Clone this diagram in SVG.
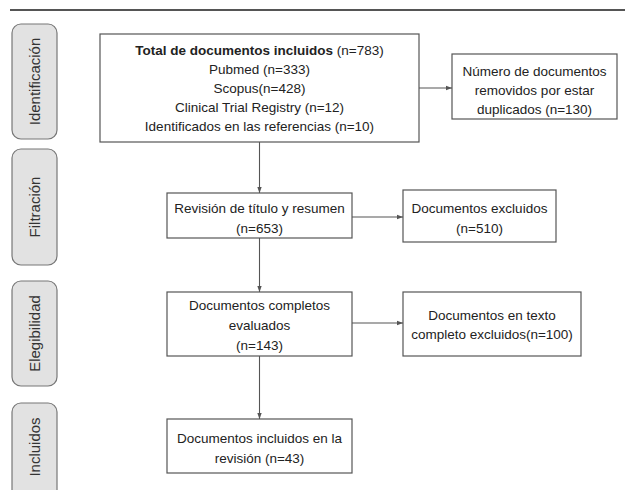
<svg xmlns="http://www.w3.org/2000/svg" width="625" height="490" viewBox="0 0 625 490">
  <defs>
    <style>
      .box { fill: #ffffff; stroke: #555555; stroke-width: 1.2; }
      .side { fill: #e2e2e2; stroke: #777777; stroke-width: 1.2; }
      .t { font-family: "Liberation Sans", Arial, sans-serif; font-size: 13.5px; fill: #222222; text-anchor: middle; }
      .st { font-family: "Liberation Sans", Arial, sans-serif; font-size: 15px; fill: #333333; text-anchor: middle; }
      .c { stroke: #555555; stroke-width: 1.1; fill: none; marker-end: url(#arr); }
    </style>
    <marker id="arr" markerWidth="6" markerHeight="6" refX="6" refY="3" orient="auto" markerUnits="userSpaceOnUse">
      <path d="M0,0.8 L6,3 L0,5.2 z" fill="#555555"/>
    </marker>
  </defs>
  <rect width="625" height="490" fill="#ffffff"/>
  <line x1="10" y1="10" x2="625" y2="10" stroke="#555555" stroke-width="2"/>

  <g id="side-identificacion">
    <rect class="side" x="12" y="24" width="45" height="115" rx="9"/>
    <text class="st" transform="translate(40,81.5) rotate(-90)">Identificación</text>
  </g>
  <g id="side-filtracion">
    <rect class="side" x="12" y="149" width="45" height="116" rx="9"/>
    <text class="st" transform="translate(40,207) rotate(-90)">Filtración</text>
  </g>
  <g id="side-elegibilidad">
    <rect class="side" x="12" y="281" width="45" height="105" rx="9"/>
    <text class="st" transform="translate(40,333.5) rotate(-90)">Elegibilidad</text>
  </g>
  <g id="side-incluidos">
    <rect class="side" x="12" y="403" width="45" height="100" rx="9"/>
    <text class="st" transform="translate(40,447) rotate(-90)">Incluidos</text>
  </g>

  <g id="connectors">
    <line class="c" x1="419" y1="88" x2="452" y2="88"/>
    <line class="c" x1="259.5" y1="142" x2="259.5" y2="193"/>
    <line class="c" x1="352" y1="217" x2="403" y2="217"/>
    <line class="c" x1="259.5" y1="238" x2="259.5" y2="292"/>
    <line class="c" x1="352" y1="323" x2="403" y2="323"/>
    <line class="c" x1="259.5" y1="356" x2="259.5" y2="419"/>
  </g>

  <g id="total">
    <rect class="box" x="100" y="34" width="319" height="108"/>
    <text class="t" x="259.5" y="54.5"><tspan font-weight="bold">Total de documentos incluidos</tspan> (n=783)</text>
    <text class="t" x="259.5" y="74">Pubmed (n=333)</text>
    <text class="t" x="259.5" y="93">Scopus(n=428)</text>
    <text class="t" x="259.5" y="112">Clinical Trial Registry (n=12)</text>
    <text class="t" x="259.5" y="131">Identificados en las referencias (n=10)</text>
  </g>
  <g id="duplicados">
    <rect class="box" x="452" y="54" width="165" height="65"/>
    <text class="t" x="534.5" y="75.5">Número de documentos</text>
    <text class="t" x="534.5" y="94.5">removidos por estar</text>
    <text class="t" x="534.5" y="113.5">duplicados (n=130)</text>
  </g>
  <g id="revision">
    <rect class="box" x="167" y="193" width="185" height="45"/>
    <text class="t" x="259.5" y="212.5">Revisión de título y resumen</text>
    <text class="t" x="259.5" y="232.5">(n=653)</text>
  </g>
  <g id="excluidos">
    <rect class="box" x="403" y="190" width="153" height="52"/>
    <text class="t" x="479.5" y="212.5">Documentos excluidos</text>
    <text class="t" x="479.5" y="232.5">(n=510)</text>
  </g>
  <g id="completos">
    <rect class="box" x="167" y="292" width="185" height="64"/>
    <text class="t" x="259.5" y="309.5">Documentos completos</text>
    <text class="t" x="259.5" y="329.5">evaluados</text>
    <text class="t" x="259.5" y="349.5">(n=143)</text>
  </g>
  <g id="texto-excluidos">
    <rect class="box" x="403" y="292" width="178" height="64"/>
    <text class="t" x="492" y="319.5">Documentos en texto</text>
    <text class="t" x="492" y="338.5">completo excluidos(n=100)</text>
  </g>
  <g id="incluidos">
    <rect class="box" x="167" y="419" width="185" height="54"/>
    <text class="t" x="259.5" y="442.5">Documentos incluidos en la</text>
    <text class="t" x="259.5" y="462.5">revisión (n=43)</text>
  </g>
</svg>
